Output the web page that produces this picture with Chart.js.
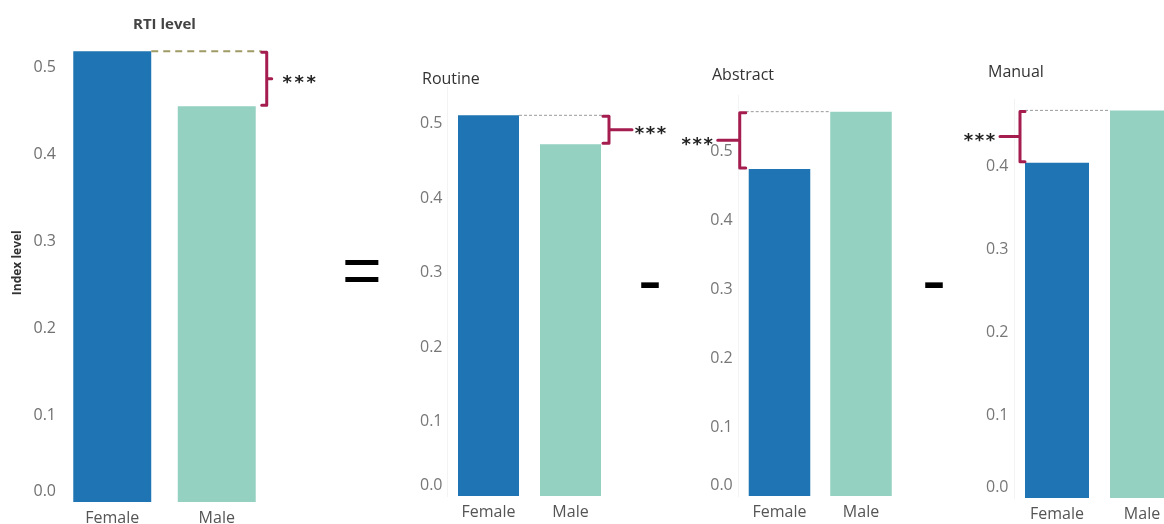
<!DOCTYPE html>
<html>
<head>
<meta charset="utf-8">
<script src="https://cdn.jsdelivr.net/npm/chart.js@4.4.1/dist/chart.umd.min.js"></script>
<style>
  body { margin: 0; width: 1164px; height: 524px; overflow: hidden; background: #fff; position: relative; font-family: 'Open Sans', sans-serif; }
  canvas { position: absolute; top: 0; }
  .ttl { position: absolute; font-size: 16px; line-height: 16px; color: #333; white-space: nowrap; }
  .op { position: absolute; font-family: 'Liberation Sans', sans-serif; color: #000; line-height: 1; }
</style>
</head>
<body>
<canvas id="c-rti" width="340" height="524" style="left:0px;width:340px;height:524px"></canvas>
<canvas id="c-routine" width="290" height="524" style="left:390px;width:290px;height:524px"></canvas>
<canvas id="c-abstract" width="240" height="524" style="left:670px;width:240px;height:524px"></canvas>
<canvas id="c-manual" width="250" height="524" style="left:940px;width:250px;height:524px"></canvas>

<div class="ttl" style="left:133px;top:15px;font-size:15px;font-weight:bold;color:#444">RTI level</div>
<div class="ttl" style="left:422px;top:70px">Routine</div>
<div class="ttl" style="left:712px;top:66px">Abstract</div>
<div class="ttl" style="left:988px;top:63px">Manual</div>

<div class="op" style="left:342px;top:236px;font-size:68px">=</div>
<div class="op" style="left:638px;top:243px;font-size:72px">-</div>
<div class="op" style="left:922px;top:243px;font-size:72px">-</div>

<script>
// valores
const categories = ['Female', 'Male'];
const rtiLevel = [0.518, 0.455];
const routineLevel = [0.511, 0.472];
const abstractLevel = [0.474, 0.557];
const manualLevel = [0.404, 0.467];
const barColors = ['#1f74b3', '#94d1c0'];

// marca da diferença significativa: linha tracejada + chave + asteriscos
const bracketPlugin = {
    id: 'bracket',
    afterDatasetsDraw(chart, args, o) {
        if (!o || !o.side) return;
        const ctx = chart.ctx;
        const bars = chart.getDatasetMeta(0).data;
        const vals = chart.data.datasets[0].data;
        const ys = chart.scales.y;
        const hi = vals[0] >= vals[1] ? 0 : 1;
        const yHi = ys.getPixelForValue(vals[hi]);
        const yLo = ys.getPixelForValue(vals[1 - hi]);
        const half = bars[0].width / 2;
        let bx, dir;
        if (o.side === 'right') { bx = bars[1].x + half + o.gap; dir = -1; }
        else { bx = bars[0].x - half - o.gap; dir = 1; }

        ctx.save();
        // linha tracejada
        ctx.setLineDash(o.dash);
        ctx.strokeStyle = o.dashColor;
        ctx.lineWidth = o.dashWidth;
        ctx.beginPath();
        if (o.side === 'right') { ctx.moveTo(bars[hi].x + half, yHi); ctx.lineTo(bx + dir * o.serif, yHi); }
        else { ctx.moveTo(bx + o.serif, yHi); ctx.lineTo(bars[hi].x - half, yHi); }
        ctx.stroke();

        // chave
        ctx.setLineDash([]);
        ctx.strokeStyle = '#a51c4f';
        ctx.lineWidth = 3;
        ctx.lineJoin = 'round';
        ctx.lineCap = 'round';
        const ym = (yHi + yLo) / 2;
        ctx.beginPath();
        ctx.moveTo(bx + dir * o.serif, yHi + 1);
        ctx.lineTo(bx, yHi + 1);
        ctx.lineTo(bx, yLo - 1);
        ctx.lineTo(bx + dir * o.serif, yLo - 1);
        ctx.moveTo(bx, ym);
        ctx.lineTo(bx - dir * o.arm, ym);
        ctx.stroke();

        // asteriscos
        ctx.fillStyle = '#222';
        ctx.font = 'bold 18px "DejaVu Sans"';
        ctx.textAlign = 'center';
        ctx.textBaseline = 'alphabetic';
        const endX = bx - dir * (o.arm + o.textGap);
        const by = ym + 18 * 0.575 - 1;
        for (let i = 0; i < 3; i++) {
            const cx = o.side === 'right' ? endX + 4.5 + i * o.starStep : endX - 4.5 - (2 - i) * o.starStep;
            ctx.fillText('*', cx, by);
        }
        ctx.restore();
    }
};

function criarPainel(id, valores, cfg) {
    const ctx = document.getElementById(id).getContext('2d');
    return new Chart(ctx, {
        type: 'bar',
        data: {
            labels: categories,
            datasets: [{
                data: valores,
                backgroundColor: barColors,
                borderWidth: 0,
                barPercentage: cfg.barPct,
                categoryPercentage: 1
            }]
        },
        plugins: [bracketPlugin],
        options: {
            responsive: false,
            animation: false,
            layout: { padding: { left: 0, right: cfg.padRight, top: cfg.padTop, bottom: 0 } },
            plugins: {
                legend: { display: false },
                tooltip: { enabled: false },
                bracket: cfg.bracket
            },
            scales: {
                x: {
                    grid: { display: false, drawTicks: false },
                    border: { display: false },
                    ticks: { color: '#555', font: { family: 'Open Sans', size: 16 }, padding: 7, maxRotation: 0 },
                    afterFit: s => { s.height = cfg.xHeight; s.paddingLeft = 0; s.paddingRight = 0; }
                },
                y: {
                    min: 0,
                    max: cfg.yMax,
                    grid: { display: false, drawTicks: false },
                    border: { display: cfg.axisLine, color: '#f3f3f3' },
                    title: cfg.yTitle ? {
                        display: true, text: cfg.yTitle, color: '#333',
                        font: { family: 'Open Sans', size: 12, weight: 'bold' }, padding: { top: 10, bottom: 0 }
                    } : { display: false },
                    ticks: {
                        stepSize: 0.1,
                        padding: cfg.tickPad,
                        color: cfg.tickColor,
                        font: { family: 'Open Sans', size: 16, lineHeight: 1.35 },
                        // Tableau sobe o rótulo 0.0 para dentro da área
                        callback: v => (v === 0 ? ['0.0', ''] : v.toFixed(1))
                    },
                    afterBuildTicks: s => {
                        s.ticks = s.ticks.filter(t => Math.abs(t.value * 10 - Math.round(t.value * 10)) < 1e-6);
                    },
                    afterFit: s => { s.width = cfg.yWidth; s.paddingTop = 0; s.paddingBottom = 0; }
                }
            }
        }
    });
}

criarPainel('c-rti', rtiLevel, {
    barPct: 0.746, padRight: 71, padTop: 23.5, xHeight: 22, yMax: 0.55,
    yWidth: 60, tickPad: 4, tickColor: '#707070', axisLine: false, yTitle: 'Index level',
    bracket: { side: 'right', gap: 11, serif: 5, arm: 5, textGap: 11, starStep: 12,
               dash: [7, 5], dashColor: '#a09a66', dashWidth: 2 }
});

criarPainel('c-routine', routineLevel, {
    barPct: 0.744, padRight: 68.5, padTop: 86.25, xHeight: 28, yMax: 0.55,
    yWidth: 57.5, tickPad: 5, tickColor: '#777', axisLine: true,
    bracket: { side: 'right', gap: 8, serif: 6, arm: 23, textGap: 3, starStep: 11,
               dash: [3, 2], dashColor: '#9a9a9a', dashWidth: 1 }
});

criarPainel('c-abstract', abstractLevel, {
    barPct: 0.755, padRight: 8.25, padTop: 95.8, xHeight: 28, yMax: 0.58,
    yWidth: 68.75, tickPad: 6, tickColor: '#777', axisLine: true,
    bracket: { side: 'left', gap: 9, serif: 6, arm: 22, textGap: 5, starStep: 11,
               dash: [3, 2], dashColor: '#9a9a9a', dashWidth: 1 }
});

criarPainel('c-manual', manualLevel, {
    barPct: 0.753, padRight: 5.5, padTop: 99.6, xHeight: 26, yMax: 0.48,
    yWidth: 74.5, tickPad: 6, tickColor: '#777', axisLine: true,
    bracket: { side: 'left', gap: 5, serif: 5, arm: 20, textGap: 5, starStep: 11,
               dash: [3, 2], dashColor: '#9a9a9a', dashWidth: 1 }
});
</script>
</body>
</html>
